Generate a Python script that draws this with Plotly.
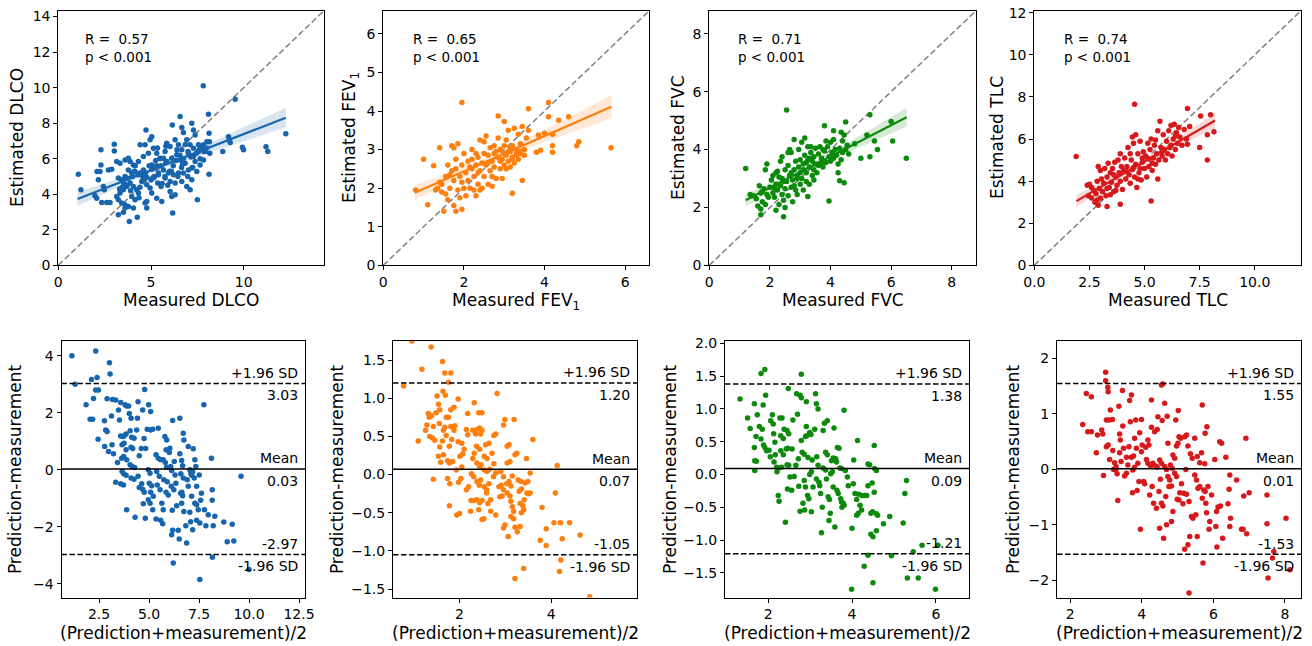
import numpy as np
import plotly.graph_objects as go

# ---------------- DATA ----------------
# Top row: (measured, estimated)
dlco_pts = [(1.08,5.13),(1.22,4.25),(9.54,9.34),(6.57,8.37),(8.1,8.5),(6.15,7.9),(7.2,8.0),(4.73,7.62),(6.66,7.75),
    (6.75,7.47),(7.29,7.62),(7.38,7.34),(8.13,7.43),(8.15,6.96),(9.18,7.24),(9.27,6.91),(9.93,6.65),(9.99,6.5),
    (8.87,6.4),(8.17,6.31),(8.13,5.13),(7.5,3.69),(6.17,2.94),(4.26,2.7),(3.83,2.47),(3.24,2.85),(5.04,7.24),
    (4.95,7.06),(4.41,6.78),(4.68,6.78),(3.02,6.82),(3.02,6.44),(2.3,6.5),(2.3,5.65),(2.25,5.28),(2.7,5.37),
    (2.88,5.41),(2.09,5.28),(2.16,4.81),(2.43,4.44),(2.48,4.25),(1.98,3.91),(2.07,3.78),(2.34,3.54),(2.61,3.54),
    (2.79,3.54),(3.15,3.87),(3.24,3.69),(3.42,3.5),(3.6,3.41),(3.78,3.31),(3.33,4.07),(3.51,4.25),(3.69,4.44),
    (3.24,4.91),(3.42,4.81),(3.6,5.0),(3.15,5.84),(3.33,5.75),(3.6,5.93),(3.78,6.03),(3.87,5.84),(4.05,5.65),
    (3.78,5.37),(3.96,5.19),(4.14,5.28),(3.87,4.63),(4.05,4.44),(4.23,4.25),(3.96,3.87),(4.14,3.69),(4.32,4.07),
    (3.6,3.22),(3.51,2.98),(4.05,3.22),(4.68,3.5),(4.77,3.22),(4.41,5.19),(4.59,5.37),(4.77,4.96),(4.5,4.72),
    (4.77,4.53),(4.95,4.35),(4.32,5.84),(4.59,6.12),(4.86,6.31),(5.13,6.59),(5.31,6.31),(5.49,6.03),(5.04,5.65),
    (5.22,5.47),(5.4,5.19),(5.13,4.91),(5.36,4.63),(5.54,4.44),(5.04,4.07),(5.31,3.78),(5.58,3.59),(4.77,3.59),
    (5.85,6.87),(6.03,6.68),(5.76,6.4),(5.67,6.03),(5.85,5.84),(6.12,6.03),(5.67,5.37),(5.94,5.19),(6.21,5.09),
    (5.76,4.91),(6.03,4.72),(6.3,4.63),(6.03,4.16),(6.3,3.97),(6.12,3.87),(6.3,7.06),(6.48,6.78),(6.66,6.5),
    (6.39,6.22),(6.57,5.93),(6.84,5.75),(6.48,5.19),(6.75,5.19),(7.02,5.37),(6.66,4.72),(6.93,4.44),(7.11,4.25),
    (6.93,7.06),(7.11,6.78),(7.29,6.59),(7.02,6.31),(7.29,6.12),(7.56,6.4),(7.38,5.84),(7.65,5.65),(7.83,5.93),
    (7.2,5.47),(7.47,5.28),(7.74,6.59),(7.83,6.78),(7.92,6.4),(8.01,6.96),(7.56,6.78),(6.98,5.0),(7.2,4.81),
    (7.82,10.1),(11.2,6.67),(11.3,6.4),(12.27,7.4),
    (3.5,4.7),(3.7,4.5),(3.75,4.9),(3.9,4.2),(4.0,5.0),(4.1,5.3),(4.3,5.1),(4.4,4.4),(4.6,4.8),(4.7,5.2),
    (4.9,5.6),(5.0,4.8),(5.05,5.4),(5.2,5.0),(5.25,5.9),(5.4,5.1),(5.5,6.0),(5.55,5.6),(5.6,4.6),(5.75,5.0),
    (5.8,5.8),(6.0,5.3),(6.1,5.3),(6.2,5.6),(6.35,5.9),(6.55,6.2),(6.65,5.5),(6.75,6.0),(7.0,6.4),(7.15,6.1),
    (7.45,6.3),(7.6,6.5),(7.65,6.0),(7.85,6.4),(8.0,6.6),(4.15,5.6),(4.55,5.0),(3.55,4.6),(3.45,4.4),(5.3,5.6),
    (5.9,4.5),(6.45,5.0),(6.7,5.7),(7.25,5.5),(5.35,6.6),(5.8,6.7),(6.4,6.5),(6.85,6.8),(3.3,4.3),(4.35,3.8)]

fev1_pts = [(0.8,1.95),(1.0,2.75),(1.1,1.57),(1.25,2.58),(1.95,4.22),(3.2,1.87),(3.45,2.2),(3.6,4.06),(4.1,4.22),
    (4.1,3.85),(4.35,3.76),(4.6,3.85),(4.8,3.1),(4.85,3.2),(5.65,3.05),(4.2,3.1),(4.2,2.93),(3.8,2.93),(3.9,2.98),
    (3.85,3.38),(4.0,3.42),(4.2,3.4),(1.4,3.05),(2.85,3.87),(3.0,3.73),
    (1.35,2.0),(1.4,2.15),(1.45,1.9),(1.5,1.4),(1.55,2.3),(1.6,2.6),(1.6,1.7),(1.65,2.0),(1.7,2.45),(1.7,3.1),
    (1.75,1.55),(1.75,2.2),(1.8,1.4),(1.8,2.75),(1.85,1.95),(1.85,3.15),(1.9,2.3),(1.9,1.75),(1.95,2.6),(1.95,1.45),
    (2.0,2.0),(2.0,2.9),(1.55,1.85),(1.65,2.35),(1.45,2.1),(1.3,1.95),(1.8,2.5),(1.95,2.15),(1.75,3.05),
    (2.05,2.4),(2.05,1.8),(2.1,2.7),(2.1,2.2),(2.15,2.0),(2.2,3.0),(2.2,2.5),(2.25,1.95),(2.25,2.3),(2.3,2.6),
    (2.3,1.8),(2.35,2.8),(2.35,2.1),(2.4,3.25),(2.4,2.45),(2.45,2.0),(2.45,2.65),(2.5,2.9),(2.5,2.3),(2.5,3.2),
    (2.15,2.55),(2.3,2.9),(2.4,1.95),(2.2,2.75),(2.35,2.4),
    (2.55,2.6),(2.55,3.35),(2.6,2.1),(2.6,2.85),(2.65,2.45),(2.65,3.05),(2.7,2.7),(2.7,2.3),(2.75,3.1),(2.75,2.55),
    (2.8,2.95),(2.8,2.25),(2.85,2.8),(2.85,3.3),(2.9,2.5),(2.9,3.0),(2.95,2.75),(2.95,2.25),(3.0,3.1),(3.0,2.6),
    (2.6,2.65),(2.75,2.9),(2.9,2.7),(2.7,2.05),
    (3.05,2.85),(3.05,3.25),(3.1,2.7),(3.1,3.5),(3.15,2.95),(3.15,2.55),(3.2,3.1),(3.2,2.8),(3.25,3.55),(3.25,2.65),
    (3.3,3.0),(3.3,2.9),(3.35,3.4),(3.35,2.75),(3.4,3.15),(3.4,2.9),(3.45,3.6),(3.5,3.0),(3.55,3.3),(3.6,3.5),
    (3.1,2.95),(3.2,2.75),(3.3,2.85),(3.4,2.95),(3.15,3.05),(3.0,2.9),(3.5,2.85),(3.05,2.5)]

fvc_pts = [(1.2,3.35),(2.55,5.37),(3.95,2.22),(2.45,1.68),(1.7,1.75),(6.5,3.7),(6.05,4.3),(6.0,4.97),(5.3,5.2),
    (5.3,3.75),(5.55,4.0),(5.45,4.3),(5.0,3.7),(4.45,2.85),(4.3,2.92),(3.8,4.82),(4.5,4.95),(4.35,4.6),(4.1,4.65),
    (3.25,2.38),(5.2,4.5),(4.8,4.2),
    (1.35,2.45),(1.45,2.4),(1.55,2.3),(1.6,2.05),(1.65,2.75),(1.7,2.5),(1.7,1.95),(1.75,2.2),(1.8,2.65),(1.85,3.3),
    (1.9,2.45),(1.9,3.5),(1.95,2.35),(2.0,2.7),(1.75,2.55),(1.85,2.1),
    (2.05,2.95),(2.1,2.5),(2.1,3.1),(2.15,2.35),(2.2,2.8),(2.2,1.9),(2.25,3.25),(2.25,2.6),(2.3,3.05),(2.3,2.1),
    (2.35,2.75),(2.35,3.6),(2.4,2.45),(2.4,3.0),(2.45,2.9),(2.45,2.25),(2.5,3.3),(2.5,2.65),(2.2,3.2),(2.15,2.65),
    (2.4,3.75),(2.5,2.0),
    (2.55,2.9),(2.6,3.45),(2.6,2.4),(2.65,3.1),(2.7,2.7),(2.7,3.9),(2.75,2.95),(2.75,2.2),(2.8,3.3),(2.8,4.35),
    (2.85,2.6),(2.85,3.6),(2.9,3.1),(2.9,2.45),(2.95,3.4),(2.95,4.0),(3.0,2.8),(3.0,3.65),(2.6,3.9),(2.7,3.2),
    (2.8,2.75),(2.9,3.0),(2.65,4.0),(3.0,3.2),
    (3.05,3.0),(3.05,4.25),(3.1,3.5),(3.1,2.6),(3.15,3.8),(3.15,4.4),(3.2,3.2),(3.2,2.9),(3.25,3.65),(3.25,4.1),
    (3.3,3.4),(3.3,2.8),(3.35,3.9),(3.35,4.1),(3.4,3.6),(3.4,3.1),(3.45,3.75),(3.45,2.95),(3.5,3.5),(3.5,4.05),
    (3.1,3.3),(3.3,3.7),(3.45,3.3),(3.2,3.55),
    (3.55,3.2),(3.6,3.85),(3.6,3.45),(3.65,4.1),(3.7,3.7),(3.75,3.4),(3.75,4.0),(3.8,3.95),(3.85,3.55),(3.9,4.1),
    (3.95,3.75),(4.0,4.25),(4.0,3.6),(4.05,3.9),(4.1,3.7),(4.15,4.0),(4.2,3.8),(4.25,3.5),(4.3,4.05),(4.4,4.3),
    (4.4,3.9),(4.45,4.5),(4.5,4.0),(4.55,4.15),(4.6,3.85),(4.1,4.35),(3.7,3.55),(3.85,4.3),(4.25,3.2),(4.35,3.65)]

tlc_pts = [(1.9,5.17),(4.55,7.65),(5.3,3.05),(3.9,2.9),(3.3,2.8),(2.9,2.85),(7.85,5.0),(7.5,5.6),(8.15,6.35),
    (8.0,7.15),(7.55,7.1),(7.85,6.2),(6.95,7.45),(7.05,6.6),(6.95,5.75),(5.6,4.1),(4.6,6.2),(4.45,6.1),
    (2.4,3.8),(2.45,3.3),(2.5,3.85),(2.6,3.2),(2.7,3.55),(2.75,3.0),(2.8,3.4),(2.85,4.0),(2.9,4.7),(2.95,3.65),
    (3.0,4.5),(3.0,3.2),(2.6,3.7),(2.85,3.1),
    (3.05,4.1),(3.1,3.5),(3.15,3.9),(3.2,4.6),(3.25,3.3),(3.3,4.2),(3.35,4.85),(3.4,3.7),(3.45,4.4),(3.5,3.95),
    (3.55,4.6),(3.6,3.5),(3.65,4.9),(3.7,4.2),(3.75,3.8),(3.8,5.0),(3.85,4.4),(3.9,4.0),(3.95,4.7),(4.0,3.6),
    (3.3,3.65),(3.6,4.3),(3.9,5.3),(3.45,3.35),(3.7,3.55),
    (4.05,4.5),(4.1,5.1),(4.15,4.1),(4.2,4.7),(4.25,5.6),(4.3,4.3),(4.35,3.9),(4.4,5.0),(4.45,4.55),(4.5,5.8),
    (4.55,4.2),(4.6,4.8),(4.65,3.7),(4.7,5.3),(4.75,4.4),(4.8,5.9),(4.85,4.05),(4.9,4.9),(4.95,5.4),(5.0,4.6),
    (4.2,4.45),(4.5,4.65),(4.7,4.1),(4.9,5.1),(4.35,5.3),(4.8,4.6),
    (5.05,5.2),(5.1,4.2),(5.15,5.8),(5.2,4.7),(5.25,5.5),(5.3,6.0),(5.35,4.5),(5.4,5.1),(5.45,5.7),(5.5,4.8),
    (5.55,5.3),(5.6,6.4),(5.65,5.0),(5.7,6.85),(5.75,5.6),(5.8,5.2),(5.85,6.2),(5.9,5.5),(5.95,5.0),(6.0,5.9),
    (5.2,5.05),(5.5,5.95),(5.8,5.4),(5.35,4.85),
    (6.05,5.3),(6.1,6.4),(6.15,5.6),(6.2,6.65),(6.25,5.2),(6.3,6.0),(6.35,6.7),(6.4,5.5),(6.45,6.3),(6.5,5.8),
    (6.55,6.55),(6.6,6.1),(6.7,5.7),(6.8,6.45),(6.9,6.0),(6.2,5.7),(6.4,6.15)]

# Regression lines as drawn in the picture: (x_start, x_end), (y_start, y_end)
fit_x = [(1.04, 12.27), (0.78, 5.66), (1.2, 6.51), (1.91, 8.2)]
fit_y = [(3.73, 8.31), (1.88, 4.11), (2.25, 5.12), (3.05, 6.88)]

# Bottom row: (mean of prediction & measurement, prediction - measurement)
dlco_ba = [(1.14,4.0),(1.3,3.0),(1.85,2.28),(2.05,1.77),(2.18,1.77),(2.12,3.17),(2.22,2.5),(2.33,4.17),(2.4,3.24),
    (2.33,2.8),(2.47,2.8),(2.45,1.07),(2.77,1.72),(2.83,1.4),(2.9,1.34),(2.78,0.82),(2.97,0.64),(3.02,3.76),
    (3.05,3.36),(2.9,2.49),(3.17,2.47),(3.33,2.45),(3.12,1.89),(3.15,0.88),(3.22,0.56),(3.33,-0.44),(3.42,0.26),
    (3.52,1.75),(3.58,2.36),(3.8,2.28),(3.88,2.24),(3.98,2.24),(3.47,2.1),(3.58,1.19),(3.68,1.17),(3.75,1.19),
    (3.85,1.26),(3.65,0.88),(3.75,0.93),(3.85,0.7),(3.63,0.41),(3.73,0.47),(3.88,0.35),(3.65,-0.06),(3.73,-0.14),
    (3.85,-0.19),(3.58,-0.49),(3.72,-0.53),(3.88,-1.4),(4.01,1.98),(4.1,1.81),(4.05,1.37),(4.13,1.14),(4.25,1.11),
    (4.1,0.79),(4.18,0.75),(4.05,0.18),(4.15,0.12),(4.28,0.08),(4.1,-0.29),(4.25,-0.33),(4.3,-1.66),(4.42,1.81),
    (4.45,2.39),(4.38,1.4),(4.51,0.49),(4.61,0.75),(4.45,-0.23),(4.63,-0.49),(4.51,-0.62),(4.68,-0.68),(4.76,-0.79),
    (4.71,-1.19),(4.81,-1.7),(4.78,2.82),(4.68,2.1),(4.75,1.1),(4.83,0.75),(4.91,1.42),(5.08,1.4),(5.18,1.42),
    (4.98,2.28),(5.08,2.05),(4.96,0.0),(5.05,-0.12),(5.01,-0.47),(5.13,-0.56),(5.08,-0.79),(5.21,-0.93),(5.18,-1.4),
    (4.96,-1.05),(5.05,-1.17),(5.35,-1.73),(5.46,1.46),(5.35,0.53),(5.46,0.41),(5.58,0.35),(5.38,-0.06),(5.51,-0.23),
    (5.41,-0.53),(5.55,-0.7),(5.68,-1.89),(5.58,-1.77),(5.64,-1.17),(5.71,-1.4),(5.79,1.17),(5.88,1.05),(5.85,0.7),
    (5.71,0.35),(5.81,0.26),(5.88,0.09),(5.74,-0.35),(5.91,-0.42),(5.85,-0.79),(5.96,-0.88),(6.04,0.76),(6.01,0.61),
    (6.08,0.12),(6.13,-0.02),(6.11,-0.58),(6.24,-0.7),(6.16,-1.42),(6.18,-2.12),(6.13,-2.28),(6.18,1.73),(6.21,-3.27),
    (6.26,0.29),(6.3,-0.18),(6.34,-0.47),(6.38,-1.26),(6.46,-2.12),(6.51,-2.43),(6.54,1.81),(6.54,0.56),(6.63,0.33),
    (6.68,0.14),(6.59,-0.14),(6.71,-0.29),(6.58,-0.82),(6.68,-0.91),(6.64,-0.79),(6.63,-1.17),(6.74,-1.46),(6.71,1.28),
    (6.74,1.05),(6.84,-1.96),(6.88,-2.57),(6.91,-0.35),(6.96,-0.58),(6.96,0.82),(7.04,0.0),(7.13,-0.19),(7.09,-0.12),
    (7.18,-0.07),(7.04,-1.49),(7.08,-1.82),(7.13,-0.93),(7.18,-2.1),(7.21,0.74),(7.29,0.35),(7.34,0.12),(7.26,-0.29),
    (7.38,-0.58),(7.29,-1.17),(7.38,-1.23),(7.38,-1.77),(7.46,-1.4),(7.51,-0.18),(7.54,-3.85),(7.62,-0.82),
    (7.58,-1.07),(7.54,-1.87),(7.74,2.28),(7.77,-1.4),(7.84,-1.96),(7.96,-1.58),(8.12,0.41),(8.16,-0.7),(8.16,-1.07),
    (8.17,-3.07),(8.29,-1.63),(8.21,-1.96),(8.74,-1.83),(8.91,-2.52),(9.16,-1.91),(9.24,-2.5),(9.6,-0.23),(10.0,-3.5)]

fev1_ba = [(0.96,1.75),(1.38,1.67),(0.78,1.16),(1.18,1.38),(1.63,1.48),(1.68,1.33),(1.81,1.33),(1.76,1.21),
    (1.64,1.09),(1.69,1.04),(1.51,1.03),(1.97,0.99),(2.32,0.94),(2.82,1.06),(1.1,0.44),(1.32,0.8),(1.34,0.75),
    (1.39,0.77),(1.29,0.65),(1.26,0.58),(1.43,0.63),(1.35,0.5),(1.41,0.48),(1.46,0.45),(1.49,0.81),(1.54,0.92),
    (1.57,0.85),(1.56,0.67),(1.65,0.58),(1.68,0.62),(1.63,0.44),(1.71,0.51),(1.57,0.36),(1.54,0.24),(1.59,0.16),
    (1.65,0.26),(1.71,0.75),(1.76,0.75),(1.81,0.85),(1.88,0.88),(1.81,0.63),(1.88,0.58),(1.9,0.64),(1.78,0.37),
    (1.83,0.46),(1.78,0.15),(1.85,0.17),(1.74,0.18),(1.43,-0.06),(1.74,-0.05),(1.79,-0.12),(1.78,-0.41),(1.94,-0.53),
    (2.0,-0.51),(1.98,-0.1),(2.03,-0.05),(1.93,0.06),(2.05,0.1),(2.01,0.24),(2.07,0.27),(2.1,0.33),(1.97,0.43),
    (2.05,0.41),(2.15,0.59),(2.18,0.52),(2.18,0.8),(2.15,-0.2),(2.2,-0.16),(2.24,-0.48),(2.25,-0.34),(2.31,-0.34),
    (2.26,0.01),(2.31,-0.03),(2.29,0.21),(2.32,0.28),(2.29,0.58),(2.35,0.53),(2.38,0.59),(2.42,0.81),(2.49,0.81),
    (2.44,0.61),(2.49,0.58),(2.46,0.53),(2.37,0.37),(2.44,0.33),(2.38,0.15),(2.44,0.1),(2.47,0.13),(2.38,-0.09),
    (2.46,-0.07),(2.43,-0.14),(2.38,-0.33),(2.44,-0.37),(2.49,-0.34),(2.42,-0.46),(2.49,-0.59),(2.53,-0.58),
    (2.54,0.24),(2.6,0.21),(2.54,0.06),(2.6,0.04),(2.66,0.07),(2.54,-0.16),(2.59,-0.2),(2.64,-0.12),(2.59,-0.24),
    (2.57,0.39),(2.64,0.41),(2.62,-0.38),(2.68,-0.33),(2.68,-0.48),(2.71,0.28),(2.75,0.14),(2.74,-0.03),(2.79,0.02),
    (2.75,0.51),(2.79,0.53),(2.79,-0.53),(2.86,-0.16),(2.91,-0.14),(2.96,-0.2),(2.88,-0.29),(2.93,-0.28),(2.9,0.04),
    (2.96,-0.03),(2.96,0.65),(2.99,0.72),(2.96,-0.7),(2.99,-0.66),(3.04,0.37),(3.08,0.39),(3.04,0.15),(3.1,0.17),
    (3.03,-0.12),(3.08,-0.09),(3.12,-0.15),(3.04,-0.24),(3.1,-0.28),(3.06,-0.81),(3.12,-0.35),(3.15,-0.42),
    (3.18,-0.48),(3.12,-0.55),(3.18,-0.58),(3.15,-0.02),(3.19,0.72),(3.21,0.26),(3.25,0.28),(3.21,-0.69),(3.26,-0.75),
    (3.32,-0.68),(3.28,-0.07),(3.34,-0.09),(3.3,-0.22),(3.35,-0.19),(3.32,-0.38),(3.38,-0.41),(3.41,-0.33),(3.35,-0.5),
    (3.4,-0.46),(3.43,-0.11),(3.47,-0.24),(3.46,0.21),(3.49,-0.09),(3.5,-0.25),(3.54,-0.24),(3.54,0.02),(3.6,0.46),
    (3.8,-0.43),(3.76,-0.86),(3.89,-0.71),(3.89,-0.93),(4.06,-0.63),(4.09,-0.24),(4.13,0.12),(4.2,-0.63),(4.21,-1.12),
    (4.24,-0.84),(4.18,-1.27),(4.4,-0.63),(4.63,-0.79),(3.4,-1.23),(3.21,-1.36),(4.84,-1.6)]

fvc_ba = [(1.33,1.15),(1.51,0.86),(1.57,0.7),(1.67,1.08),(1.67,0.41),(1.71,0.58),(1.68,0.21),(1.72,0.2),(1.68,0.06),
    (1.74,0.91),(1.79,0.73),(1.83,1.54),(1.83,0.54),(1.86,0.69),(1.89,0.45),(1.92,0.41),(1.88,1.06),(1.92,1.6),
    (1.94,1.21),(1.96,0.36),(2.02,0.37),(2.05,0.27),(2.06,0.82),(2.1,0.91),(2.12,0.77),(2.13,0.62),(2.14,0.19),
    (2.16,0.49),(2.17,0.3),(2.2,0.11),(2.25,0.1),(2.32,0.11),(2.21,0.04),(2.24,-0.32),(2.26,-0.41),(2.28,0.86),
    (2.33,0.86),(2.3,0.59),(2.36,0.55),(2.3,0.36),(2.36,0.3),(2.38,0.69),(2.41,-0.73),(2.43,0.39),(2.47,0.4),
    (2.45,0.15),(2.49,0.14),(2.46,-0.22),(2.48,1.31),(2.49,0.62),(2.45,0.67),(2.52,-0.04),(2.56,-0.24),(2.57,0.39),
    (2.59,0.83),(2.62,-0.03),(2.66,0.14),(2.68,1.23),(2.7,0.92),(2.72,0.24),(2.73,-0.18),(2.76,-0.56),(2.76,1.21),
    (2.79,1.17),(2.79,1.53),(2.79,0.52),(2.81,0.34),(2.86,0.31),(2.83,-0.44),(2.87,-0.54),(2.86,-0.09),(2.89,-0.19),
    (2.89,0.58),(2.92,0.59),(2.91,0.73),(2.91,1.11),(2.94,-0.32),(2.97,-0.37),(2.95,0.26),(2.99,0.64),(3.02,0.61),
    (2.99,0.0),(3.03,0.04),(3.03,-0.57),(3.05,0.22),(3.07,-0.19),(3.11,0.69),(3.13,1.23),(3.15,-0.07),(3.19,0.14),
    (3.21,-0.12),(3.15,1.08),(3.16,0.27),(3.19,1.0),(3.23,-0.17),(3.25,-0.29),(3.27,-0.89),(3.29,-0.5),(3.31,0.67),
    (3.34,0.78),(3.31,0.1),(3.37,0.07),(3.37,0.34),(3.41,0.3),(3.39,-0.07),(3.41,0.82),(3.43,-0.34),(3.46,-0.38),
    (3.45,-0.7),(3.48,-0.59),(3.49,0.01),(3.53,0.04),(3.51,0.21),(3.55,0.25),(3.55,-0.19),(3.57,0.71),(3.59,-0.8),
    (3.61,0.24),(3.63,0.19),(3.64,-0.24),(3.67,-0.29),(3.65,0.41),(3.69,0.4),(3.71,0.1),(3.75,0.09),(3.73,-0.37),
    (3.75,-0.42),(3.79,-0.44),(3.76,-0.5),(3.81,-0.47),(3.81,0.98),(3.84,0.06),(3.89,-0.04),(3.91,-0.17),(4.0,-0.82),
    (3.99,-1.75),(4.03,-0.14),(4.04,0.22),(4.07,-0.29),(4.11,-0.38),(4.16,-0.3),(4.11,-0.62),(4.15,-0.59),(4.13,0.52),
    (4.19,-0.47),(4.23,-0.54),(4.24,-0.32),(4.29,-0.32),(4.35,-0.32),(4.29,-1.4),(4.38,0.16),(4.42,0.15),(4.38,-0.17),
    (4.38,-1.23),(4.45,-0.59),(4.49,-0.57),(4.45,-0.91),(4.48,-0.13),(4.5,-0.95),(4.53,0.44),(4.53,-0.27),(4.5,-1.65),
    (4.54,0.09),(4.58,0.06),(4.58,-0.6),(4.61,-0.62),(4.58,-0.86),(4.75,-0.75),(4.9,-0.64),(4.94,-1.24),(5.22,-0.74),
    (5.26,-0.29),(5.3,-0.09),(5.32,-1.58),(5.46,-1.18),(5.58,-1.58),(5.67,-1.08),(5.99,-1.75),(6.05,-1.08)]

tlc_ba = [(2.35,0.81),(2.45,1.37),(2.49,0.68),(2.59,1.31),(2.59,0.68),(2.73,0.3),(2.76,0.62),(2.88,0.71),(2.91,0.64),
    (2.93,-0.11),(2.99,1.75),(2.99,1.6),(3.01,0.89),(3.01,0.41),(3.06,0.44),(3.05,1.48),(3.06,1.4),(3.08,0.89),
    (3.1,0.18),(3.12,1.07),(3.18,0.9),(3.19,0.34),(3.21,0.0),(3.24,0.12),(3.28,0.05),(3.27,-0.01),(3.31,-0.08),
    (3.33,-0.56),(3.36,1.14),(3.38,0.64),(3.4,0.53),(3.38,0.3),(3.42,0.14),(3.46,1.42),(3.47,0.78),(3.49,0.38),
    (3.52,-0.12),(3.57,-0.07),(3.57,0.22),(3.61,0.08),(3.64,0.41),(3.66,1.24),(3.68,0.86),(3.71,1.34),(3.71,0.22),
    (3.75,-0.01),(3.8,0.04),(3.74,-0.42),(3.77,0.24),(3.8,0.56),(3.83,0.89),(3.85,0.38),(3.87,-0.38),(3.89,0.11),
    (3.92,-0.22),(3.94,0.66),(3.96,-1.08),(3.99,0.9),(3.99,0.32),(4.01,0.44),(4.05,-0.22),(4.08,-0.26),(4.11,0.4),
    (4.13,0.18),(4.17,0.53),(4.17,0.11),(4.24,0.06),(4.2,0.44),(4.22,-0.46),(4.27,0.76),(4.27,1.25),(4.29,-0.31),
    (4.31,0.11),(4.33,-0.61),(4.36,0.68),(4.39,0.06),(4.43,0.04),(4.41,-0.7),(4.43,0.72),(4.45,0.95),(4.48,-0.4),
    (4.5,-1.06),(4.5,0.17),(4.55,0.11),(4.52,-0.18),(4.55,1.52),(4.59,1.54),(4.55,-0.61),(4.59,-0.66),(4.57,0.88),
    (4.61,-1.24),(4.64,1.19),(4.64,0.05),(4.69,0.0),(4.67,-0.49),(4.69,-1.0),(4.71,0.96),(4.73,-0.13),(4.78,-0.19),
    (4.73,0.47),(4.76,-0.31),(4.83,-0.3),(4.8,0.08),(4.85,0.02),(4.83,-0.94),(4.87,0.26),(4.92,0.2),(4.87,-0.76),
    (4.92,-0.07),(4.97,-0.13),(4.95,0.89),(4.97,0.42),(5.01,0.47),(4.99,-0.54),(5.04,-0.55),(5.02,1.06),(5.04,0.59),
    (5.09,0.56),(5.06,-0.42),(5.11,-0.26),(5.15,-0.62),(5.17,-0.43),(5.2,-1.44),(5.2,0.59),(5.25,0.62),(5.23,0.0),
    (5.25,-0.45),(5.29,-1.36),(5.29,0.42),(5.32,-0.58),(5.32,-2.23),(5.36,0.28),(5.34,-1.21),(5.39,-0.85),(5.43,-0.88),
    (5.41,0.2),(5.48,0.56),(5.48,-0.1),(5.53,-0.19),(5.51,-0.82),(5.55,0.23),(5.55,-1.21),(5.57,-0.34),(5.62,-0.31),
    (5.62,0.12),(5.67,0.3),(5.69,1.16),(5.69,-0.52),(5.71,-1.69),(5.73,-0.37),(5.77,-0.4),(5.76,0.1),(5.77,0.65),
    (5.79,-0.61),(5.81,-0.78),(5.82,0.77),(5.85,-0.31),(5.88,-1.08),(5.9,-0.94),(5.95,-0.46),(6.04,0.18),(6.07,-1.03),
    (6.09,-0.76),(6.1,-1.4),(6.13,-0.68),(6.18,0.5),(6.23,0.47),(6.2,-0.66),(6.26,-1.24),(6.35,0.22),(6.41,-0.62),
    (6.44,-0.36),(6.46,-0.1),(6.48,-0.88),(6.46,-1.03),(6.65,-0.19),(6.79,-1.08),(6.83,-1.08),(6.85,-0.48),
    (6.93,-1.16),(6.91,0.56),(7.0,-0.42),(7.5,-0.46),(7.5,-0.98),(7.53,-1.96),(7.65,-1.6),(7.69,-1.48),(8.03,-0.88),
    (8.14,-1.81)]

variables = ["DLCO", "FEV<sub>1</sub>", "FVC", "TLC"]
r_values = ["0.57", "0.65", "0.71", "0.74"]
p_labels = ["p &lt; 0.001"] * 4
mean_diff = [0.03, 0.07, 0.09, 0.01]
upper_loa = [3.03, 1.20, 1.38, 1.55]
lower_loa = [-2.97, -1.05, -1.21, -1.53]

top_data = [dlco_pts, fev1_pts, fvc_pts, tlc_pts]
bottom_data = [dlco_ba, fev1_ba, fvc_ba, tlc_ba]

# ---------------- STYLE / LAYOUT ----------------
W, H = 1312, 646
FONT = "DejaVu Sans"
colors = ["#1765ae", "#ff7f0e", "#0c8a0c", "#d7191c"]
bands = ["rgba(23,101,174,0.17)", "rgba(255,127,14,0.17)", "rgba(12,138,12,0.17)", "rgba(215,25,28,0.17)"]

# plot-area boxes in pixels: (left, right, top, bottom)
top_boxes = [(58.3, 324, 10.7, 265.3), (383.3, 649.3, 10.7, 265.3),
             (709.3, 976, 10.7, 265.3), (1034.3, 1301, 10.7, 265.3)]
bot_boxes = [(61.5, 305, 340.7, 597.5), (393, 637, 340.7, 597.5),
             (725, 969, 340.7, 597.5), (1057, 1301, 340.7, 597.5)]
top_lims = [14.33, 6.6, 8.8, 12.1]
top_xticks = [[0, 5, 10], [0, 2, 4, 6], [0, 2, 4, 6, 8], [0, 2.5, 5, 7.5, 10]]
top_yticks = [list(range(0, 15, 2)), list(range(0, 7)), [0, 2, 4, 6, 8], list(range(0, 13, 2))]
top_xfmt = ["", "", "", ".1f"]
bot_xrange = [(0.62, 12.8), (0.55, 5.87), (0.97, 6.79), (1.63, 8.45)]
bot_yrange = [(-4.48, 4.53), (-1.61, 1.753), (-1.876, 2.04), (-2.31, 2.32)]
bot_xticks = [[2.5, 5, 7.5, 10, 12.5], [2, 4], [2, 4, 6], [2, 4, 6, 8]]
bot_yticks = [[-4, -2, 0, 2, 4], [-1.5, -1, -0.5, 0, 0.5, 1, 1.5],
              [-1.5, -1, -0.5, 0, 0.5, 1, 1.5, 2], [-2, -1, 0, 1, 2]]
bot_xfmt = [".1f", "", "", ""]
bot_yfmt = ["", ".1f", ".1f", ""]
top_ytitle_x = [17, 350, 678, 997]
bot_ytitle_x = [15, 337, 670, 1013]
r_text_x = [0.093, 0.104, 0.1, 0.104]


def px(x):
    return x / W


def py(y):
    return 1 - y / H


def ax_ids(k):
    """axis reference ids and layout keys for subplot k (1-based)"""
    s = "" if k == 1 else str(k)
    return "x" + s, "y" + s, "xaxis" + s, "yaxis" + s


axis_style = dict(showline=True, mirror=True, linecolor="black", linewidth=1,
                  ticks="outside", ticklen=4, tickwidth=1, tickcolor="black",
                  showgrid=False, zeroline=False, automargin=False,
                  tickfont=dict(family=FONT, size=14, color="black"))

fig = go.Figure()
layout = {}
annotations = []
shapes = []

for i in range(4):
    k = i + 1
    xa, ya, xname, yname = ax_ids(k)
    xs = np.array([p[0] for p in top_data[i]])
    ys = np.array([p[1] for p in top_data[i]])
    fig.add_trace(go.Scatter(x=xs, y=ys, mode="markers", xaxis=xa, yaxis=ya,
                             marker=dict(color=colors[i], size=5.5, line=dict(width=0)),
                             showlegend=False, hoverinfo="skip"))
    # fitted line with a 95% confidence band from the points' spread
    (x0, x1), (y0, y1) = fit_x[i], fit_y[i]
    slope = (y1 - y0) / (x1 - x0)
    grid = np.linspace(x0, x1, 100)
    fit = y0 + slope * (grid - x0)
    resid = ys - (y0 + slope * (xs - x0))
    n = len(xs)
    s = np.sqrt(np.sum(resid ** 2) / (n - 2))
    sxx = np.sum((xs - xs.mean()) ** 2)
    se = s * np.sqrt(1 / n + (grid - xs.mean()) ** 2 / sxx)
    up, lo = fit + 1.97 * se, fit - 1.97 * se
    fig.add_trace(go.Scatter(x=np.concatenate([grid, grid[::-1]]), y=np.concatenate([up, lo[::-1]]),
                             fill="toself", fillcolor=bands[i], line=dict(width=0), mode="lines",
                             xaxis=xa, yaxis=ya, showlegend=False, hoverinfo="skip"))
    fig.add_trace(go.Scatter(x=grid, y=fit, mode="lines", line=dict(color=colors[i], width=2.2),
                             xaxis=xa, yaxis=ya, showlegend=False, hoverinfo="skip"))

    l, r, t, b = top_boxes[i]
    layout[xname] = dict(axis_style, domain=[px(l), px(r)], anchor=ya, range=[0, top_lims[i]],
                         tickvals=top_xticks[i], tickformat=top_xfmt[i])
    layout[yname] = dict(axis_style, domain=[py(b), py(t)], anchor=xa, range=[0, top_lims[i]],
                         tickvals=top_yticks[i])
    # identity line (y = x); equal ranges so the domain diagonal is y = x
    shapes.append(dict(type="line", xref=f"{xa} domain", yref=f"{ya} domain", x0=0, y0=0, x1=1, y1=1,
                       line=dict(color="#808080", width=1.5, dash="6px,3px"), layer="below"))
    annotations.append(dict(xref=f"{xa} domain", yref=f"{ya} domain", x=r_text_x[i], y=0.852,
                            xanchor="left", yanchor="middle", align="left", showarrow=False,
                            text=f"R = \u00a0{r_values[i]}<br>{p_labels[i]}",
                            font=dict(family=FONT, size=13.5, color="black")))
    annotations.append(dict(xref="paper", yref="paper", x=px((l + r) / 2), y=py(287.5),
                            xanchor="center", yanchor="top", showarrow=False,
                            text=f"Measured {variables[i]}",
                            font=dict(family=FONT, size=17, color="black")))
    annotations.append(dict(xref="paper", yref="paper", x=px(top_ytitle_x[i]), y=py((t + b) / 2),
                            xanchor="center", yanchor="middle", showarrow=False, textangle=-90,
                            text=f"Estimated {variables[i]}",
                            font=dict(family=FONT, size=17, color="black")))

for i in range(4):
    k = i + 5
    xa, ya, xname, yname = ax_ids(k)
    xs = [p[0] for p in bottom_data[i]]
    ys = [p[1] for p in bottom_data[i]]
    fig.add_trace(go.Scatter(x=xs, y=ys, mode="markers", xaxis=xa, yaxis=ya,
                             marker=dict(color=colors[i], size=5.5, line=dict(width=0)),
                             showlegend=False, hoverinfo="skip"))
    l, r, t, b = bot_boxes[i]
    layout[xname] = dict(axis_style, domain=[px(l), px(r)], anchor=ya, range=list(bot_xrange[i]),
                         tickvals=bot_xticks[i], tickformat=bot_xfmt[i])
    layout[yname] = dict(axis_style, domain=[py(b), py(t)], anchor=xa, range=list(bot_yrange[i]),
                         tickvals=bot_yticks[i], tickformat=bot_yfmt[i])
    for val, dash in [(mean_diff[i], "solid"), (upper_loa[i], "5.5px,2.5px"), (lower_loa[i], "5.5px,2.5px")]:
        shapes.append(dict(type="line", xref=f"{xa} domain", yref=ya, x0=0, x1=1, y0=val, y1=val,
                           line=dict(color="black", width=1.5, dash=dash), layer="above"))
    labels = [(upper_loa[i], "+1.96 SD", f"{upper_loa[i]:.2f}"),
              (mean_diff[i], "Mean", f"{mean_diff[i]:.2f}"),
              (lower_loa[i], f"{lower_loa[i]:.2f}", "-1.96 SD")]
    for val, above, below in labels:
        annotations.append(dict(xref=f"{xa} domain", yref=ya, x=0.978, y=val, xanchor="right",
                                yanchor="bottom", yshift=0.5, showarrow=False, text=above,
                                font=dict(family=FONT, size=14, color="black")))
        annotations.append(dict(xref=f"{xa} domain", yref=ya, x=0.978, y=val, xanchor="right",
                                yanchor="top", yshift=-2, showarrow=False, text=below,
                                font=dict(family=FONT, size=14, color="black")))
    annotations.append(dict(xref="paper", yref="paper", x=px((l + r) / 2), y=py(633),
                            xanchor="center", yanchor="middle", showarrow=False,
                            text="(Prediction+measurement)/2",
                            font=dict(family=FONT, size=17, color="black")))
    annotations.append(dict(xref="paper", yref="paper", x=px(bot_ytitle_x[i]), y=py((t + b) / 2),
                            xanchor="center", yanchor="middle", showarrow=False, textangle=-90,
                            text="Prediction-measurement",
                            font=dict(family=FONT, size=17, color="black")))

fig.update_layout(**layout)
fig.update_layout(width=W, height=H, margin=dict(l=0, r=0, t=0, b=0),
                  paper_bgcolor="white", plot_bgcolor="white",
                  annotations=annotations, shapes=shapes, showlegend=False,
                  font=dict(family=FONT, size=14, color="black"))
fig.write_html("out.html", config={"displayModeBar": False},
               post_script="document.body.style.margin='0';document.body.style.overflow='hidden';")
